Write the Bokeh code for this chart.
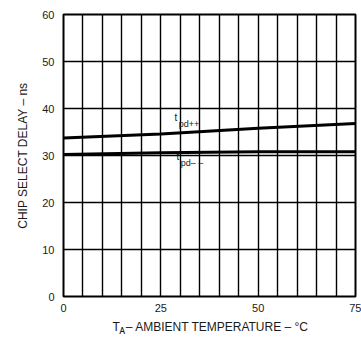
from bokeh.plotting import figure
from bokeh.models import FixedTicker, Range1d, Label, Title
from bokeh.embed import file_html
from bokeh.resources import INLINE

# data
temps = [0, 25, 50, 75]
tpd_pp = [33.7, 34.6, 35.8, 36.8]
tpd_mm = [30.2, 30.6, 30.8, 30.8]
x_ticks = [0, 25, 50, 75]
y_ticks = [0, 10, 20, 30, 40, 50, 60]
x_grid = list(range(0, 80, 5))

FONT = "Liberation Sans"
TXT = "#1a1a1a"

W, H = 361, 339
p = figure(width=W, height=H, output_backend="svg", toolbar_location=None,
           x_range=Range1d(0, 75), y_range=Range1d(0, 60),
           min_border_left=63, min_border_right=6, min_border_top=14, min_border_bottom=42)
p.background_fill_color = "white"
p.border_fill_color = "white"
p.outline_line_color = "black"
p.outline_line_width = 2

for ax in (p.xaxis[0], p.yaxis[0]):
    ax.major_tick_line_color = None
    ax.minor_tick_line_color = None
    ax.axis_line_color = None
    ax.major_label_text_font = FONT
    ax.major_label_text_font_size = "11px"
    ax.major_label_text_color = TXT
    ax.axis_label_text_font = FONT
    ax.axis_label_text_font_style = "normal"
    ax.axis_label_text_color = TXT
p.xaxis[0].ticker = FixedTicker(ticks=x_ticks)
p.yaxis[0].ticker = FixedTicker(ticks=y_ticks)
p.xaxis[0].major_label_standoff = 1
p.yaxis[0].major_label_standoff = 3
p.yaxis[0].axis_label = "CHIP SELECT DELAY \u2013 ns"
p.yaxis[0].axis_label_text_font_size = "12px"
p.yaxis[0].axis_label_standoff = 9

p.xgrid.ticker = FixedTicker(ticks=x_grid)
p.ygrid.ticker = FixedTicker(ticks=y_ticks)
for g in (p.xgrid[0], p.ygrid[0]):
    g.grid_line_color = "black"
    g.grid_line_width = 1.4
    g.grid_line_alpha = 1.0

p.line(temps, tpd_pp, line_color="black", line_width=3)
p.line(temps, tpd_mm, line_color="black", line_width=3)

def add(x, y, text, size):
    p.add_layout(Label(x=x, y=y, text=text,
                       text_font=FONT, text_font_size=size,
                       text_color=TXT, text_baseline="middle", text_align="left"))

# curve labels
add(28.5, 38.0, "t", "10px")
add(29.6, 36.7, "pd++", "9px")
add(29.0, 29.7, "t", "10px")
add(30.1, 28.4, "pd\u2013 \u2013", "9px")

# x axis title (second line carries the small subscript A)
t_main = Title(text="T\u2002\u2013 AMBIENT TEMPERATURE \u2013 \u00b0C\n\u00a0\u00a0\u1d00",
               align="left", offset=49,
               text_font=FONT, text_font_size="12px", text_font_style="normal",
               text_color=TXT, standoff=5, text_line_height=0.25)
p.add_layout(t_main, "below")

open("out.html", "w").write(file_html(p, INLINE))
